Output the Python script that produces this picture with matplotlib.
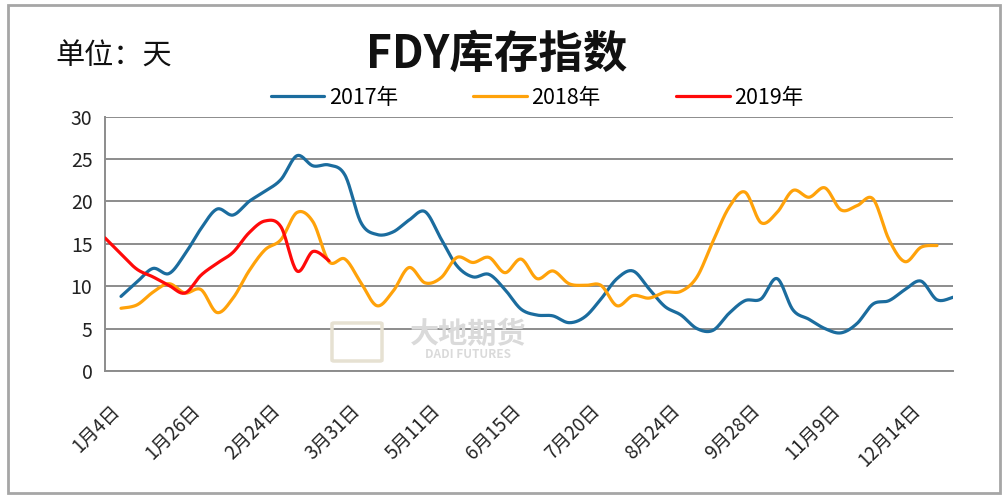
import numpy as np
import matplotlib
matplotlib.use("Agg")
import matplotlib.pyplot as plt
from matplotlib.patches import Rectangle, FancyBboxPatch
from matplotlib.transforms import ScaledTranslation

plt.rcParams['font.family'] = ['Noto Sans CJK SC', 'DejaVu Sans']

## data, x = category index
tick_pos = [0, 5, 10, 15, 20, 25, 30, 35, 40, 45, 50]
tick_labels = ["1月4日", "1月26日", "2月24日", "3月31日", "5月11日", "6月15日",
               "7月20日", "8月24日", "9月28日", "11月9日", "12月14日"]

x2017 = list(range(1, 54))
y2017 = [8.8, 10.5, 12.1, 11.5, 13.8, 16.8, 19.1, 18.4, 20.0, 21.2,
         22.6, 25.4, 24.2, 24.3, 23.1, 17.5, 16.1, 16.4, 17.8, 18.8,
         15.6, 12.4, 11.1, 11.4, 9.6, 7.3, 6.6, 6.5, 5.7, 6.4,
         8.5, 10.9, 11.8, 9.7, 7.6, 6.6, 5.0, 4.8, 6.8, 8.3,
         8.5, 10.9, 7.2, 6.1, 5.0, 4.5, 5.6, 7.9, 8.3, 9.6,
         10.6, 8.4, 8.7]

x2018 = list(range(1, 53))
y2018 = [7.4, 7.8, 9.3, 10.3, 9.2, 9.6, 6.9, 8.6, 11.8, 14.3,
         15.5, 18.7, 17.6, 12.9, 13.2, 10.4, 7.7, 9.4, 12.2, 10.4,
         11.0, 13.4, 12.8, 13.4, 11.6, 13.2, 10.9, 11.8, 10.3, 10.1,
         10.1, 7.7, 8.9, 8.6, 9.3, 9.4, 11.1, 15.3, 19.3, 21.1,
         17.5, 18.7, 21.3, 20.5, 21.6, 19.0, 19.5, 20.3, 15.5, 12.9,
         14.6, 14.8]

x2019 = list(range(0, 15))
y2019 = [15.7, 13.8, 12.0, 11.1, 10.1, 9.2, 11.3, 12.7, 14.0, 16.3,
         17.7, 17.0, 11.8, 14.1, 13.0]

series = [("2017年", x2017, y2017, "#1b6c9e"),
          ("2018年", x2018, y2018, "#ffa20a"),
          ("2019年", x2019, y2019, "#ff0a0a")]


def smooth(x, y, n=20):
    # catmull-rom like excel's smoothed line
    x = np.asarray(x, float)
    y = np.asarray(y, float)
    px = np.concatenate([[x[0]], x, [x[-1]]])
    py = np.concatenate([[y[0]], y, [y[-1]]])
    t = np.linspace(0, 1, n, endpoint=False)[:, None]
    xs, ys = [], []
    for i in range(1, len(px) - 2):
        p0, p1, p2, p3 = [np.array([px[j], py[j]]) for j in (i - 1, i, i + 1, i + 2)]
        c1 = p1 + (p2 - p0) / 6
        c2 = p2 - (p3 - p1) / 6
        b = ((1 - t) ** 3) * p1 + 3 * ((1 - t) ** 2) * t * c1 + 3 * (1 - t) * t ** 2 * c2 + t ** 3 * p2
        xs.append(b[:, 0])
        ys.append(b[:, 1])
    xs.append([x[-1]])
    ys.append([y[-1]])
    return np.concatenate(xs), np.concatenate(ys)


fig = plt.figure(figsize=(10.03, 4.99), dpi=100)
fig.patches.append(Rectangle((8 / 1003, 1 - 493 / 499), 992 / 1003, 488 / 499,
                             transform=fig.transFigure, fill=False,
                             edgecolor="#a6a6a6", linewidth=2))

ax = fig.add_axes([105 / 1003, 1 - 371 / 499, 848 / 1003, 254.3 / 499])
ax.set_xlim(0, 53)
ax.set_ylim(0, 30)
ax.set_yticks([0, 5, 10, 15, 20, 25, 30])
ax.yaxis.grid(True, color="#8c8c8c", linewidth=1.4)
ax.set_axisbelow(True)
for s in ["top", "right"]:
    ax.spines[s].set_visible(False)
for s in ["left", "bottom"]:
    ax.spines[s].set_color("#8c8c8c")
    ax.spines[s].set_linewidth(1.4)
ax.tick_params(axis="y", length=0, pad=9, labelsize=14, labelcolor="#222222")
ax.tick_params(axis="x", length=0, pad=21, labelsize=13.5, labelcolor="#222222")

ax.set_xticks(tick_pos)
ax.set_xticklabels(tick_labels, rotation=45, ha="right", va="top", rotation_mode="anchor")
for lbl in ax.get_xticklabels():
    lbl.set_transform(lbl.get_transform() + ScaledTranslation(0.05, 0, fig.dpi_scale_trans))

for name, xs, ys, col in series:
    sx, sy = smooth(xs, ys)
    ax.plot(sx, sy, color=col, linewidth=2.3, label=name, solid_capstyle="round", zorder=3)

# watermark
fig.patches.append(FancyBboxPatch((334 / 1003, 1 - 360 / 499), 46 / 1003, 36 / 499,
                                  boxstyle="round,pad=0.002", transform=fig.transFigure,
                                  fill=False, edgecolor="#e6e1d2", linewidth=2.5))
fig.text(468 / 1003, 1 - 334 / 499, "大地期货", fontsize=21, fontweight="bold",
         color="#dadada", ha="center", va="center")
fig.text(468 / 1003, 1 - 355 / 499, "DADI FUTURES", fontsize=8.5, fontweight="bold",
         color="#dadada", ha="center", va="center")

fig.text(497 / 1003, 1 - 55 / 499, "FDY库存指数", fontsize=32, fontweight="bold",
         ha="center", va="center", color="#111111")
fig.text(55 / 1003, 1 - 57 / 499, "单位：天", fontsize=21, ha="left", va="center",
         color="#111111")

fig.legend(loc="center", bbox_to_anchor=(537 / 1003, 1 - 98 / 499), ncol=3, frameon=False,
           fontsize=15.5, handlelength=2.5, handletextpad=0.2, columnspacing=3.5)

fig.savefig("out.png", dpi=100)
